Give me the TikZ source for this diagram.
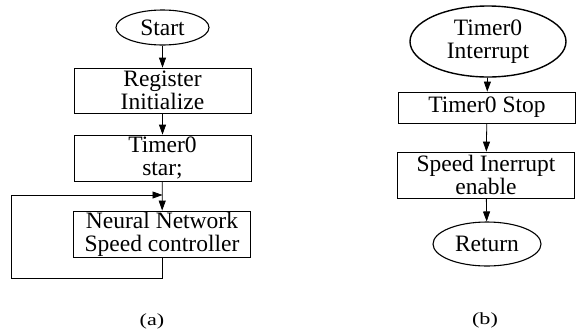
\documentclass[tikz,border=0pt]{standalone}
\usepackage{fontspec}
\setmainfont{Liberation Serif}
\newfontfamily\labfont[FakeStretch=1.3]{Liberation Serif}
\usetikzlibrary{shapes.geometric,arrows.meta}
\begin{document}
\begin{tikzpicture}[x=1pt,y=-1pt,
  every node/.style={font=\fontsize{23.5}{23}\selectfont, align=center, inner sep=0pt},
  box/.style={draw, line width=0.8pt, rectangle, minimum width=177pt},
  oval/.style={draw, line width=1.1pt, ellipse},
  arr/.style={line width=0.8pt, -{Triangle[length=10pt,width=7pt]}},
  lab/.style={font=\labfont\fontsize{17}{17}\selectfont}]
\useasboundingbox (0,0) rectangle (578,333);
% (a)
\node[oval, minimum width=93pt, minimum height=35pt] (start) at (162.5,27.5) {Start};
\node[box, minimum height=45pt] (reg) at (162.5,90.5) {Register\\Initialize};
\node[box, minimum height=46pt] (tim) at (162.5,158) {Timer0\\star;};
\node[box, minimum height=46pt] (nn) at (162,234) {Neural Network\\Speed controller};
\coordinate (lb) at (162,278);
\coordinate (lj) at (162.5,195);
\draw[arr] (start) -- (reg);
\draw[arr] (reg) -- (tim);
\draw[arr] (tim) -- (nn);
\draw[arr] (nn.south) -- (lb) -| (11,195) -- (lj);
\node[lab] (la) at (152,321) {(a)};
% (b)
\node[oval, line width=1.4pt, minimum width=156pt, minimum height=71pt] (ti) at (488,41.5) {Timer0\\Interrupt};
\node[box, minimum height=31pt] (ts) at (487,107.5) {Timer0 Stop};
\node[box, minimum height=46pt] (si) at (486,175) {Speed Inerrupt\\enable};
\node[oval, minimum width=108pt, minimum height=44pt] (ret) at (487,244) {Return};
\draw[arr] (ti) -- (ts);
\draw[arr] (ts) -- (si);
\draw[arr] (si) -- (ret);
\node[lab] (lbb) at (485,320) {(b)};
\end{tikzpicture}
\end{document}
